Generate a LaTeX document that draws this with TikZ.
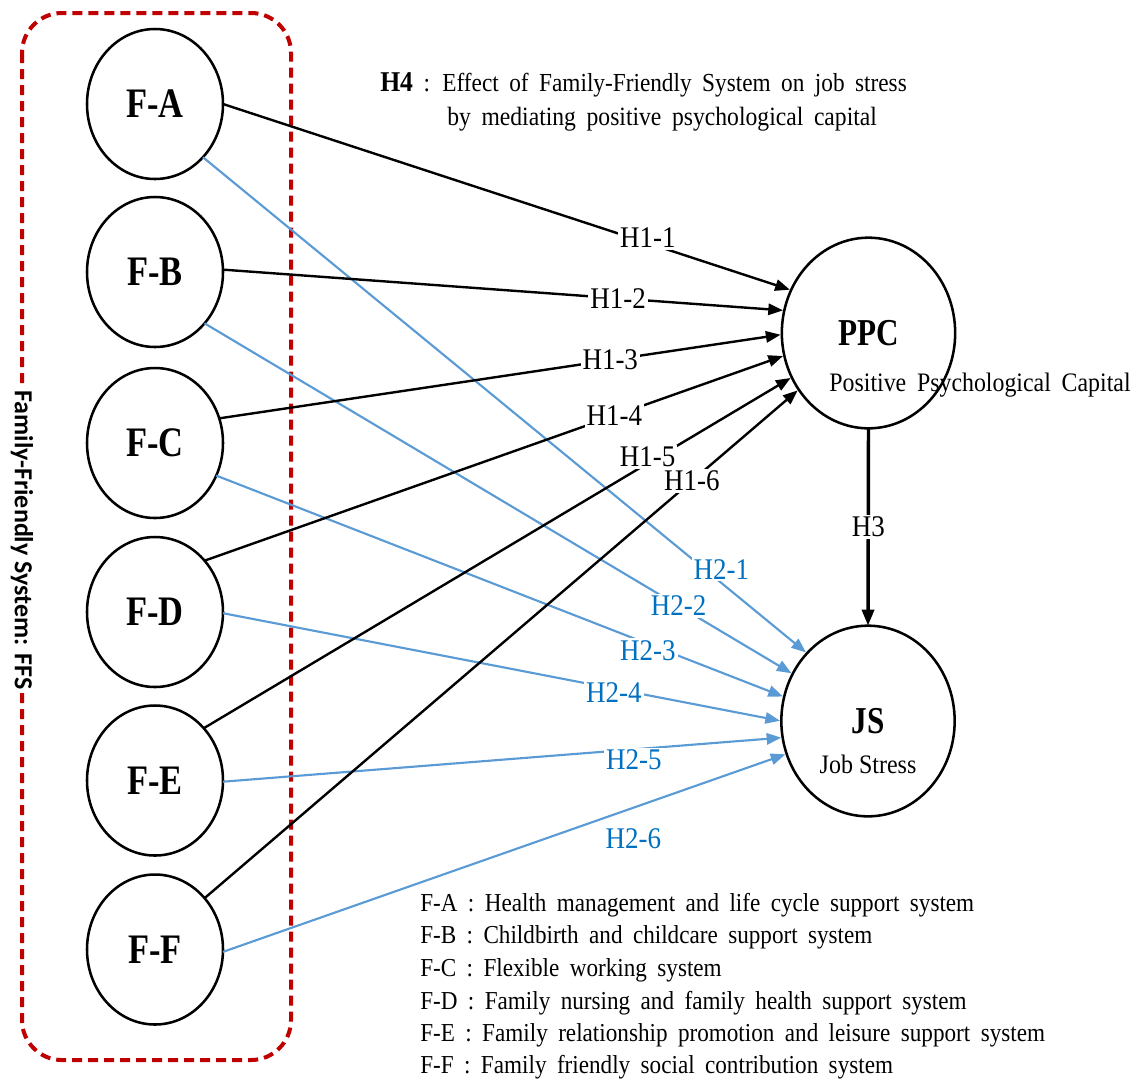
\documentclass[tikz,border=0pt]{standalone}
\usepackage{fontspec}
\setmainfont{Liberation Serif}
\newfontfamily\tnrc[FakeStretch=0.82]{Liberation Serif}
\newfontfamily\tnrl[FakeStretch=0.9]{Liberation Serif}
\newfontfamily\tnrw[FakeStretch=0.895,WordSpace=1.8]{Liberation Serif}
\newfontfamily\sansb{Carlito}
\usetikzlibrary{shapes.geometric,arrows.meta}
\definecolor{ffsred}{HTML}{C00000}
\definecolor{lnblue}{HTML}{5B9BD5}
\definecolor{txblue}{HTML}{0070C0}
\begin{document}
\begin{tikzpicture}[x=0.75pt,y=-0.75pt,
  fnode/.style={ellipse,draw,line width=1.9pt,minimum width=102pt,minimum height=112.5pt,inner sep=0pt,outer sep=0pt,font=\tnrc\bfseries\fontsize{31.5}{31.5}\selectfont},
  bignode/.style={ellipse,draw,line width=1.9pt,minimum width=130pt,minimum height=143pt,inner sep=0pt,outer sep=0pt,font=\tnrc\bfseries\fontsize{28.5}{28.5}\selectfont},
  blackarr/.style={line width=1.8pt,-{Triangle[length=11pt,width=8.5pt]},shorten >=1pt},
  bluearr/.style={draw=lnblue,line width=1.6pt,-{Triangle[length=11pt,width=8.5pt]},shorten >=1pt},
  hlab/.style={fill=white,inner sep=1.5pt,font=\tnrl\fontsize{22.5}{22.5}\selectfont},
  h2lab/.style={hlab,text=txblue},
  legend/.style={anchor=base west,inner sep=0pt,font=\tnrw\fontsize{19.4}{19.4}\selectfont},
  desc/.style={anchor=base,inner sep=0pt,font=\tnrw\fontsize{20}{20}\selectfont}
]
\useasboundingbox (0,0) rectangle (1137,1079);
% group box
\draw[ffsred,line width=3pt,dash pattern=on 7.5pt off 4.5pt,rounded corners=30pt] (22,13) rectangle (291,1060);
\node[fill=white,rotate=-90,inner sep=3pt,font=\sansb\bfseries\fontsize{19.5}{19.5}\selectfont] (ffs) at (22,540) {Family-Friendly System: FFS};
% nodes
\node[fnode] (fa) at (155,104) {F-A};
\node[fnode] (fb) at (155,272) {F-B};
\node[fnode] (fc) at (155,443) {F-C};
\node[fnode] (fd) at (155,612) {F-D};
\node[fnode] (fe) at (155,780.5) {F-E};
\node[fnode] (ff) at (155,949.5) {F-F};
\node[bignode] (ppc) at (868.5,333) {PPC};
\node[bignode] (js) at (868,721) {JS};
\node[desc] (ppcd) at (980,391) {Positive Psychological Capital};
\node[desc,font=\tnrl\fontsize{20}{20}\selectfont] (jsd) at (868,773) {Job Stress};
% H4 text
\node[anchor=base west,inner sep=0pt,font=\tnrw\fontsize{19.5}{19.5}\selectfont] (h4a) at (380,91) {{\bfseries\fontsize{21.5}{21.5}\selectfont H4} : Effect of Family-Friendly System on job stress};
\node[anchor=base west,inner sep=0pt,font=\tnrw\fontsize{19.8}{19.8}\selectfont] (h4b) at (447,125) {by mediating positive psychological capital};
% blue edges (H2)
\draw[bluearr] (fa.-48.4) -- node[h2lab,pos=0.836,xshift=10pt,yshift=2pt]{H2-1} (js.132.4);
\draw[bluearr] (fb.-46.7) -- node[h2lab,pos=0.806]{H2-2} (js.148.8);
\draw[bluearr] (fc.-28) -- node[h2lab,pos=0.76,yshift=-5pt]{H2-3} (js.164.7);
\draw[bluearr] (fd.-1) -- node[h2lab,pos=0.70,yshift=-3pt]{H2-4} (js.180);
\draw[bluearr] (fe.-1) -- node[h2lab,pos=0.734,yshift=-8pt]{H2-5} (js.191);
\draw[bluearr] (ff.-2) -- node[h2lab,fill=none,pos=0.728,yshift=-23pt]{H2-6} (js.202);
% black edges (H1)
\draw[blackarr] (fa.east) -- node[hlab,pos=0.748,yshift=4pt]{H1-1} (ppc.151.5);
\draw[blackarr] (fb.2) -- node[hlab,pos=0.704]{H1-2} (ppc.165);
\draw[blackarr] (fc.21) -- node[hlab,pos=0.695]{H1-3} (ppc.181);
\draw[blackarr] (fd.46.7) -- node[hlab,pos=0.707]{H1-4} (ppc.195);
\draw[blackarr] (fe.47) -- node[hlab,pos=0.755,yshift=5pt]{H1-5} (ppc.210);
\draw[blackarr] (ff.46.4) -- node[hlab,pos=0.82]{H1-6} (ppc.219.6);
% H3
\draw[line width=2.6pt,-{Triangle[length=12pt,width=9pt]}] (ppc.south) -- node[hlab]{H3} (js.north);
% legend
\node[legend] (l1) at (420,911) {F-A : Health management and life cycle support system};
\node[legend] (l2) at (420,943) {F-B : Childbirth and childcare support system};
\node[legend] (l3) at (420,976) {F-C : Flexible working system};
\node[legend] (l4) at (420,1009) {F-D : Family nursing and family health support system};
\node[legend] (l5) at (420,1041) {F-E : Family relationship promotion and leisure support system};
\node[legend] (l6) at (420,1073) {F-F : Family friendly social contribution system};
\end{tikzpicture}
\end{document}
